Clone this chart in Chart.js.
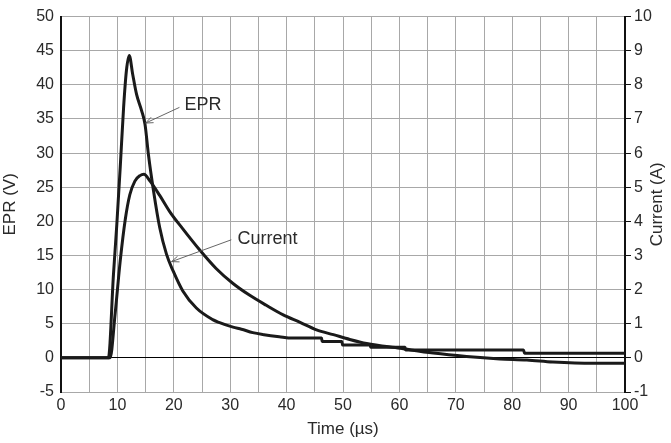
<!DOCTYPE html>
<html>
<head>
<meta charset="utf-8">
<script src="https://cdn.jsdelivr.net/npm/chart.js@4.4.1/dist/chart.umd.min.js"></script>
<style>
html,body{margin:0;padding:0;background:#fff;}
canvas{display:block;}
</style>
</head>
<body>
<canvas id="c" width="671" height="443"></canvas>
<script>
// EPR (V), left axis
const eprTime = [0,8.4,9.3,9.9,10.5,11.1,11.6,12.1,12.7,13.4,14.3,14.9,15.5,16.4,17.5,18.7,19.9,21.6,24.0,26.9,28.0,30.5,32.0,34.0,36.0,38.7,41.0,46.2,46.3,49.8,49.9,54.8,54.9,61,61.1,82,82.2,100];
const eprValues = [0,0,12.2,19.6,27.9,36.7,42.1,44.3,41.6,38.6,36.2,34.2,29.8,24.5,19.1,15.2,12.7,9.8,7.3,5.6,5.2,4.5,4.2,3.7,3.4,3.1,2.9,2.9,2.4,2.4,1.9,1.9,1.56,1.56,1.17,1.17,0.68,0.68];
// Current (A), right axis
const currentTime = [0,8.7,9.6,10.5,11.4,12.2,13.1,14.0,14.7,15.8,17.5,19.3,21.6,24.6,27.5,30.5,33.4,36.4,39.4,42.4,45.3,48.3,51.2,54.2,60.1,66,71.9,77.8,82.6,87.2,94.3,100];
const currentValues = [0,0,1.3,2.84,4.06,4.78,5.18,5.34,5.38,5.18,4.76,4.28,3.78,3.16,2.62,2.18,1.84,1.54,1.26,1.04,0.82,0.68,0.54,0.42,0.28,0.14,0.04,-0.03,-0.06,-0.12,-0.16,-0.16];

const xTicks = [0,10,20,30,40,50,60,70,80,90,100];
const yLeftTicks = [-5,0,5,10,15,20,25,30,35,40,45,50];
const yRightTicks = [-1,0,1,2,3,4,5,6,7,8,9,10];

// annotations: label, text anchor (data), arrow start (data), arrow tip (data)
const notes = [
  {text:'EPR', at:[21.9,37.0], from:[21.0,36.7], to:[15.0,34.4]},
  {text:'Current', at:[31.3,17.4], from:[30.2,17.3], to:[19.6,14.1]}
];

const FONT = '"Liberation Sans", Arial, sans-serif';
const TXT = '#2a2a2a';
const GRID = '#a8a8a8';

const annot = {
  id:'annot',
  afterDatasetsDraw(chart){
    const {ctx, chartArea, scales:{x,y}} = chart;
    ctx.save();
    ctx.font = '18px ' + FONT;
    ctx.fillStyle = TXT;
    ctx.textBaseline = 'middle';
    ctx.textAlign = 'left';
    notes.forEach(n=>{
      ctx.fillText(n.text, x.getPixelForValue(n.at[0]), y.getPixelForValue(n.at[1]));
      const x1=x.getPixelForValue(n.from[0]), y1=y.getPixelForValue(n.from[1]);
      const x2=x.getPixelForValue(n.to[0]), y2=y.getPixelForValue(n.to[1]);
      ctx.strokeStyle='#555'; ctx.lineWidth=0.9;
      ctx.beginPath(); ctx.moveTo(x1,y1); ctx.lineTo(x2,y2); ctx.stroke();
      const a=Math.atan2(y2-y1,x2-x1), L=8, w=0.38;
      ctx.beginPath();
      ctx.moveTo(x2-L*Math.cos(a-w), y2-L*Math.sin(a-w));
      ctx.lineTo(x2,y2);
      ctx.lineTo(x2-L*Math.cos(a+w), y2-L*Math.sin(a+w));
      ctx.stroke();
    });
    // right axis title, reading bottom-to-top
    ctx.font = '17px ' + FONT;
    ctx.textAlign = 'center';
    ctx.translate(chart.width - 14, (chartArea.top + chartArea.bottom)/2);
    ctx.rotate(-Math.PI/2);
    ctx.fillText('Current (A)', 0, 0);
    ctx.restore();
  }
};

new Chart(document.getElementById('c'), {
  type:'line',
  data:{
    datasets:[
      {label:'EPR', data:eprTime.map((t,i)=>({x:t,y:eprValues[i]})), yAxisID:'y',
       borderColor:'#1a1a1a', borderWidth:3, pointRadius:0, cubicInterpolationMode:'monotone'},
      {label:'Current', data:currentTime.map((t,i)=>({x:t,y:currentValues[i]})), yAxisID:'y1',
       borderColor:'#1a1a1a', borderWidth:3, pointRadius:0, cubicInterpolationMode:'monotone'}
    ]
  },
  options:{
    responsive:false, animation:false,
    layout:{padding:{top:16,left:0,right:0,bottom:0}},
    plugins:{legend:{display:false}, tooltip:{enabled:false}},
    scales:{
      x:{type:'linear', min:0, max:100,
        afterBuildTicks(s){ const t=[]; for(let v=0; v<=100; v+=5) t.push({value:v}); s.ticks=t; },
        ticks:{autoSkip:false, maxRotation:0, padding:4, color:TXT, font:{family:FONT,size:16},
          callback:(v)=> xTicks.includes(v) ? String(v) : ''},
        grid:{color:GRID, lineWidth:1, drawTicks:false},
        border:{color:GRID, width:1},
        title:{display:true, text:'Time (µs)', color:TXT, font:{family:FONT,size:17}, padding:{top:1,bottom:3}},
        afterFit(s){ s.height = 51; }
      },
      y:{type:'linear', position:'left', min:-5, max:50,
        afterBuildTicks(s){ s.ticks = yLeftTicks.map(v=>({value:v})); },
        ticks:{padding:7, color:TXT, font:{family:FONT,size:16}},
        grid:{color:(c)=> c.tick && c.tick.value===0 ? '#000' : GRID, lineWidth:1, drawTicks:false},
        border:{color:'#111', width:2},
        title:{display:true, text:'EPR (V)', color:TXT, font:{family:FONT,size:17}, padding:{top:0,bottom:4}},
        afterFit(s){ s.width = 61; }
      },
      y1:{type:'linear', position:'right', min:-1, max:10,
        afterBuildTicks(s){ s.ticks = yRightTicks.map(v=>({value:v})); },
        ticks:{padding:3, color:TXT, font:{family:FONT,size:16}},
        grid:{drawOnChartArea:false, color:'#111', tickLength:6, lineWidth:1},
        border:{color:'#111', width:2},
        afterFit(s){ s.width = 46; }
      }
    }
  },
  plugins:[annot]
});
</script>
</body>
</html>
